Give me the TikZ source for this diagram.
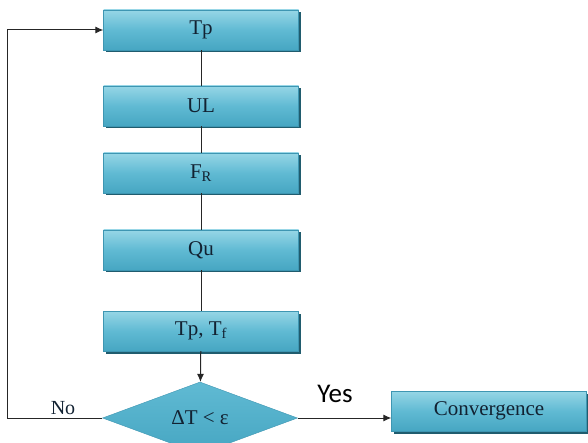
\documentclass[tikz,border=0pt]{standalone}
\usepackage{fontspec}
\setmainfont{Liberation Serif}
\newfontfamily\yesfont{Carlito}
\usetikzlibrary{shapes.geometric,shadows,arrows.meta}
\definecolor{boxtop}{RGB}{150,214,230}
\definecolor{boxmid}{RGB}{96,186,211}
\definecolor{boxbot}{RGB}{70,166,194}
\definecolor{boxedge}{RGB}{62,150,178}
\definecolor{boxshade}{RGB}{32,92,110}
\definecolor{textnavy}{RGB}{18,34,50}

\begin{document}
\begin{tikzpicture}[x=1pt,y=-1pt,
   stepbox/.style={rectangle, draw=boxedge, top color=boxtop, bottom color=boxbot, middle color=boxmid,
      minimum width=195pt, minimum height=40pt, inner sep=0pt, text=textnavy,
      font=\fontsize{21}{24}\selectfont,
      drop shadow={shadow xshift=2.5pt, shadow yshift=-2.5pt, fill=boxshade, opacity=1}},
   testbox/.style={diamond, aspect=2.7, draw=boxedge, top color=boxmid, bottom color=boxbot,
      minimum width=195pt, minimum height=72pt, inner sep=0pt, text=textnavy,
      font=\fontsize{21}{24}\selectfont},
   link/.style={draw=black!85, line width=1pt},
   tip/.style={-{Latex[length=8pt,width=7pt]}}]
   \useasboundingbox (0,0) rectangle (588,443);
   % steps
   \node[stepbox] (tp)   at (201,30)  {Tp};
   \node[stepbox] (ul)   at (201,106) {UL};
   \node[stepbox] (fr)   at (201,173) {F\textsubscript{R}};
   \node[stepbox] (qu)   at (201,250) {Qu};
   \node[stepbox] (tptf) at (201,331) {Tp, T\textsubscript{f}};
   \node[testbox] (cond) at (200,418) {ΔT < ε};
   \node[stepbox] (conv) at (489,411) {Convergence};
   \coordinate (loop) at (7,418);
   % connectors
   \draw[link] (tp) -- (ul);
   \draw[link] (ul) -- (fr);
   \draw[link] (fr) -- (qu);
   \draw[link] (qu) -- (tptf);
   \draw[link,tip] (tptf) -- (cond);
   \draw[link,tip] (cond.east) -- (cond.east -| conv.west);
   \draw[link,tip] (cond.west) -- (loop) |- (tp.west);
   % labels
   \node[font=\fontsize{20}{24}\selectfont, text=textnavy] (no) at (63,408) {No};
   \node[font=\yesfont\fontsize{27}{30}\selectfont] (yes) at (335,394) {Yes};
\end{tikzpicture}
\end{document}
